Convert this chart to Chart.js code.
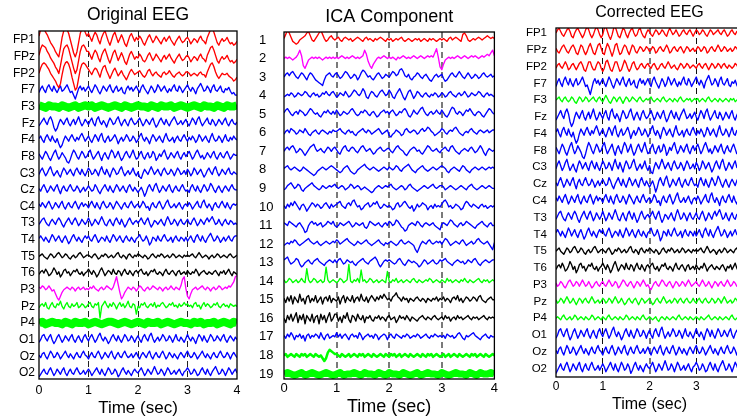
<!DOCTYPE html>
<html><head><meta charset="utf-8">
<script src="https://cdn.jsdelivr.net/npm/chart.js@4/dist/chart.umd.min.js"></script>
<style>
html,body{margin:0;padding:0;background:#fff;width:737px;height:420px;overflow:hidden;position:relative;}
.p{position:absolute;top:0;height:420px;overflow:hidden;}
canvas{display:block;}
</style></head><body>
<div class="p" style="left:0;width:245px"><canvas id="c1" width="245" height="420"></canvas></div>
<div class="p" style="left:245px;width:255px"><canvas id="c2" width="255" height="420"></canvas></div>
<div class="p" style="left:500px;width:237px"><canvas id="c3" width="250" height="420"></canvas></div>
<script>
// ---------- labels ----------
const channelNames = ['FP1','FPz','FP2','F7','F3','Fz','F4','F8','C3','Cz','C4','T3','T4','T5','T6','P3','Pz','P4','O1','Oz','O2'];
const componentNames = ['1','2','3','4','5','6','7','8','9','10','11','12','13','14','15','16','17','18','19'];
const timeTicks = [0,1,2,3,4];
const DURATION = 4;   // every series below spans 0..4 s, evenly sampled

// ---------- Original EEG (amplitude units, up = positive) ----------
const ORIG_FP1 = [3,8,10,9,6,4,1,-2,-4,-6,-9,-11,-13,-6,2,7,9,8,5,0,-5,-10,-13,-9,-2,5,9,10,6,3, 5,2,-1,3,6,4,0,-3,2,5,7,3,-1,-4,0,4,6,2,-2,1,4,1,-3,-5,-1,3,5,2,-1,2, 0,3,1,-2,-4,-1,2,4,1,-2,0,3,1,-1,-3,0,2,-1,1,3,0,-2,-4,-1,1,3,0,-2,-1,1, 2,0,-3,-1,1,0,-2,1,3,0,-1,-3,2,5,8,9,6,2,-2,-4,-1,1,-1,0,2,-1,-3,-2,-4,-3, -1];
const ORIG_FPZ = [1,6,9,8,7,4,2,-1,-3,-5,-8,-10,-13,-7,0,6,8,9,6,1,-4,-9,-13,-10,-3,4,8,9,7,4, 4,1,-2,2,5,3,-1,-4,1,4,6,2,-2,-5,-1,3,5,1,-3,0,3,0,-4,-6,-2,2,4,1,-2,0, -1,2,0,-3,-4,-2,1,3,0,-3,-1,2,0,-2,-4,-1,1,-2,0,2,-1,-3,-5,-2,0,2,-1,-3,-2,0, 1,-1,-4,-2,0,-1,-3,0,2,-1,-2,-4,1,4,7,8,5,1,-3,-5,-2,0,-2,-1,1,-2,-4,-3,-5,-4, -2];
const ORIG_FP2 = [0,4,7,8,7,5,3,0,-2,-4,-6,-9,-11,-8,-1,5,8,9,7,3,-3,-8,-13,-11,-4,3,7,8,7,5, 3,1,-1,2,4,3,0,-3,2,5,6,2,-1,-4,-1,2,4,1,-2,0,2,-1,-3,-5,-2,1,3,1,-1,0, 1,2,0,-2,-3,-1,2,3,0,-2,0,1,-1,-2,-3,0,1,-1,0,2,0,-2,-3,-1,0,1,-1,-2,-1,1, 1,0,-2,-1,0,-1,-2,0,1,-1,-1,-3,1,4,7,8,5,1,-2,-4,-2,0,-1,-1,0,-2,-3,-4,-6,-5, -3];
const ORIG_F7  = [-2,1,3,0,-2,2,4,1,-1,3,0,-2,1,3,-1,0,2,4,1,-2,-1,-4,-7,-3,1,3,0,2,-1,1, 3,0,-2,1,4,2,-1,-3,0,3,1,-1,2,4,0,-2,1,3,-1,0,2,-2,-3,1,3,0,2,-1,1,3, 0,-2,2,4,1,-1,-3,0,3,1,-2,0,4,2,-1,1,3,0,-2,1,-1,2,4,0,-1,3,1,-2,0,2, 4,1,-1,2,0,-3,1,3,5,2,-1,0,3,1,-2,2,4,0,-1,1,3,-1,-2,1,0,2,-1,-3,-2,-4, -4];
const ORIG_F3  = [1,0,-1,1,0,0,-1,1,0,-1,0,1,-1,0,1, 0,1,-1,0,1,0,-1,0,1,0,-1,1,0,-1,0, 1,0,0,-1,1,0,-1,1,0,0,1,-1,0,1,0, -1,0,1,0,-1,1,0,0,-1,1,0,-1,1,0,0, 1];
const ORIG_FZ  = [-2,0,2,4,1,-1,3,5,2,-3,-6,-4,0,3,1,-1,2,4,0,-2,1,3,-1,2,5,1,-2,0,3,1, -1,2,4,0,-2,3,5,1,-1,2,0,-3,1,4,2,-1,0,3,5,1,-2,1,3,0,-2,2,4,1,-1,0, 2,4,1,-2,0,3,1,-1,2,4,0,-3,-1,2,4,1,-1,3,0,-2,1,3,5,2,-1,0,2,-1,1,3, 0,-2,1,4,2,-1,3,5,1,-2,0,2,4,0,-1,3,1,-2,0,3,1,-1,2,4,0,-2,1,3,0,-1, 1];
const ORIG_F4  = [1,3,0,-2,2,4,1,-1,3,0,-2,1,-3,-6,-4,0,3,1,-1,2,4,1,-1,2,0,3,5,2,-1,1, 3,0,-2,1,4,2,-1,3,5,0,-2,1,3,-1,0,2,4,1,-3,0,2,-1,1,4,2,-1,0,3,1,-2, 0,3,5,1,-1,2,0,-3,1,4,2,-1,1,3,0,-2,2,5,1,-1,0,2,-2,1,3,0,-1,2,4,1, -1,2,0,3,1,-2,0,4,2,-1,1,3,0,-2,2,5,1,-1,0,3,1,-2,1,4,0,-1,2,0,3,1, 0];
const ORIG_F8  = [2,0,-2,1,4,2,-1,-3,0,3,5,1,-2,0,3,1,-1,-4,-5,-2,2,5,3,0,-2,1,4,2,-1,0, 3,5,1,-2,0,2,4,0,-3,1,3,0,-2,2,5,3,-1,1,4,0,-3,-1,2,4,1,-1,2,5,1,-2, -1,2,4,0,-2,1,3,-1,0,4,2,-3,-1,2,0,3,5,1,-2,0,3,1,-1,2,4,0,-2,1,3,0, 2,4,1,-2,0,3,5,2,-1,1,-2,0,3,1,-1,2,4,0,-2,1,3,0,-1,2,4,1,-2,0,2,1, 1];
const ORIG_C3  = [-1,2,4,1,-2,0,3,5,1,-2,0,2,-1,-3,1,4,2,-1,1,3,0,-2,2,4,1,-1,3,0,-2,1, 4,2,-1,0,3,1,-2,2,5,1,-1,3,0,-3,1,4,2,-1,0,3,5,1,-2,0,2,-1,1,4,0,-2, 1,-3,-4,0,3,1,-1,2,5,2,-1,1,3,0,-2,2,4,1,-1,0,3,1,-2,1,4,2,-1,0,2,-1, 3,1,-2,0,4,2,-1,1,3,0,-3,-1,2,4,1,-1,3,5,1,-2,0,3,1,-1,2,4,0,-1,1,0, -1];
const ORIG_CZ  = [1,-1,2,4,1,-2,0,3,1,-1,2,4,0,-3,1,3,0,-1,2,4,1,-1,0,3,1,-2,0,2,-1,1, 3,1,-1,0,4,2,-1,-3,0,2,4,1,-1,3,0,-2,1,4,2,-1,1,3,0,-2,2,4,1,-1,2,0, -2,0,2,-1,-5,-2,2,4,1,-1,3,5,1,-2,0,3,1,-1,2,4,0,-2,1,3,0,-1,2,4,1,-1, 0,-2,2,4,1,-1,3,0,-2,1,4,2,-1,1,5,3,0,-2,1,3,0,-2,1,3,1,-1,2,4,1,0, 0];
const ORIG_C4  = [2,0,3,1,-1,2,4,1,-2,0,3,1,-1,2,4,0,-2,1,3,0,-1,2,4,1,-2,1,3,0,2,1, -1,2,4,1,-1,3,0,-2,2,4,1,-1,0,3,1,-2,1,4,2,0,-2,1,3,0,-1,2,4,1,-1,1, 2,-1,1,4,2,-1,0,-3,1,3,0,-1,2,4,1,-2,0,3,5,1,-1,0,2,-1,1,3,0,-2,1,2, 0,3,1,-2,0,2,4,0,-1,3,5,1,-1,2,0,-3,1,3,0,-1,2,4,1,-1,3,0,-2,1,2,1, 2];
const ORIG_T3  = [-1,1,3,4,1,-1,-2,1,3,1,-1,2,4,2,-1,-3,0,2,4,1,-1,2,4,1,-2,0,3,1,-1,1, 4,1,-2,0,3,1,-1,2,5,2,-1,-2,1,3,0,-2,2,4,1,-1,3,0,-3,-1,2,4,1,-1,1,2, 0,2,4,1,-1,2,4,0,-3,-1,2,1,-1,1,3,0,-2,2,5,2,-1,0,3,1,-2,1,3,0,-1,1, 3,0,-1,2,4,1,-2,0,3,1,-1,2,4,1,3,5,2,-1,0,3,0,-2,1,3,0,-1,2,1,-1,0, -1];
const ORIG_T4  = [1,3,1,-1,2,0,-2,1,4,2,-1,1,3,0,-2,1,3,0,-3,-1,2,4,1,-1,2,0,-2,1,3,1, 3,0,-1,2,4,1,-2,0,2,1,-1,3,0,-2,1,4,2,-1,1,3,0,-2,1,3,0,-1,2,0,-2,1, 2,4,1,-1,0,3,0,-4,-2,2,1,-1,3,0,-1,2,4,1,-1,0,2,-2,1,3,0,-1,2,1,-1,2, -1,1,3,0,-2,2,4,1,-1,3,0,-2,1,3,5,2,-1,0,3,1,-2,0,2,-1,1,3,0,-1,2,3, 3];
const ORIG_T5  = [0,1,2,0,-1,-2,0,2,1,-1,0,2,3,1,-1,0,2,1,-1,-2,0,1,-1,0,2,3,1,-1,0,1, 1,0,-1,1,2,0,-2,-1,1,0,2,1,-1,0,1,-1,0,2,3,0,-1,1,0,-2,1,2,0,-1,1,0, 2,1,0,-1,1,0,-2,-1,1,2,0,-1,1,0,2,1,-1,0,1,-1,0,2,1,-1,0,1,0,-1,1,0, 1,0,1,2,0,-1,1,3,1,-1,0,1,0,-2,0,1,-1,0,2,1,-1,0,1,0,-1,1,2,0,-1,0, 1];
const ORIG_T6  = [-1,1,2,0,3,1,-2,-1,1,4,2,-1,1,-3,-1,2,3,0,1,-2,0,2,1,3,0,-1,1,-2,0,1, 3,1,-1,2,0,-3,-1,2,4,1,-2,0,2,1,-1,3,0,-1,2,1,-2,1,3,0,-1,2,0,-2,1,2, 0,2,3,0,-1,1,-2,0,2,1,3,0,-1,1,0,-2,1,3,0,-1,1,2,0,-2,1,2,-1,0,1,-1, 2,0,-1,1,0,3,1,-2,0,1,2,0,-1,1,0,-1,1,2,0,-2,1,0,2,-1,1,3,0,-2,1,0, -1];
const ORIG_P3  = [2,1,3,2,0,1,3,1,-1,0,-3,-6,-8,-5,-2,0,1,2,1,0,2,1,-1,1,2,0,1,2,0,1, 0,2,1,3,1,0,-1,1,2,0,1,3,2,1,0,2,6,10,4,-2,-7,-5,-2,0,2,1,0,2,1,-1, 1,3,2,0,-1,1,2,0,1,3,2,1,0,2,1,-1,1,2,0,1,3,1,0,2,1,0,3,8,10,1, -5,-7,-3,0,1,2,0,1,2,3,1,0,2,1,-1,1,2,0,1,3,2,0,1,2,1,3,2,4,6,10, 11];
const ORIG_PZ  = [-1,1,2,0,3,-1,-2,1,3,0,-1,2,1,4,0,-2,1,3,0,-1,2,0,1,3,-1,0,2,1,-1,0, 2,3,0,-1,2,1,3,-9,0,2,4,1,-1,2,0,3,1,-2,1,3,0,2,-1,1,4,0,-1,2,1,-6, 0,-1,2,1,3,0,-1,1,2,0,3,-1,1,0,2,3,1,-1,0,2,1,3,0,1,-1,2,0,1,3,1, 2,0,1,-1,2,3,0,1,-2,1,3,0,2,1,-1,0,2,1,3,0,-1,1,2,0,1,-1,2,1,0,1, 0];
const ORIG_P4  = [0,1,-1,0,1,0,0,-1,1,0,-1,1,0,0,1, -1,0,1,0,-1,0,1,1,0,-1,0,1,0,-1,0, 1,0,-1,1,0,0,1,-1,0,1,0,-1,0,1,0, 0,-1,1,0,1,-1,0,0,1,-1,0,1,0,-1,1, 0];
const ORIG_O1  = [-2,0,3,4,1,-1,2,4,0,-3,-1,2,4,1,-2,0,3,1,-1,2,4,0,-2,1,3,0,-2,2,4,1, -1,2,4,1,-2,0,3,5,1,-1,2,0,-3,-1,2,4,1,-1,3,0,-2,1,4,2,-1,0,3,1,-2,1, 3,0,-2,2,4,1,-1,3,5,1,-2,0,2,-1,1,4,2,-1,0,3,1,-2,1,4,0,-1,2,0,-2,1, 4,1,-1,2,0,-3,1,4,2,-1,3,0,-2,1,4,2,-1,0,3,1,-1,2,4,0,-2,1,3,1,-1,2, 0];
const ORIG_OZ  = [1,-1,2,3,0,-2,1,4,2,-1,0,3,1,-2,0,2,4,1,-1,2,0,-2,1,3,0,-1,2,4,1,0, -2,1,3,0,-1,2,4,1,-2,0,3,1,-1,2,4,0,-2,1,3,0,-1,2,4,1,-1,0,2,-1,1,3, 0,-2,1,3,1,-1,2,4,0,-2,1,3,0,-1,2,4,1,-2,0,3,1,-1,2,0,-2,1,3,1,-1,2, 4,1,-1,0,3,1,-2,0,2,4,1,-1,2,0,-2,1,3,0,-1,2,4,1,-1,0,3,1,-2,1,3,1, -1];
const ORIG_O2  = [-3,-1,1,3,0,-1,2,4,1,-2,0,3,1,-1,2,4,0,-2,1,3,0,-1,2,4,1,-1,0,2,-1,1, 3,1,-2,0,2,4,1,-1,3,0,-2,1,4,2,-1,0,3,1,-3,-1,2,4,1,-1,2,0,-2,1,3,1, 0,2,4,1,-2,0,3,1,-1,2,5,2,-1,0,3,1,-2,1,4,2,-1,0,2,-1,1,3,0,-2,1,2, 4,2,-1,0,3,1,-2,-1,2,4,1,-1,3,0,-2,1,3,5,2,-1,0,3,1,-2,1,4,2,-1,1,3, 0];

// ---------- ICA components ----------
const ICA_1  = [1,4,7,5,2,-1,-2,-3,-2,0,1,2,3,5,6,3,0,-1,1,3,5,7,4,1,-1,0,2,3,1,0, 1,2,0,-1,1,2,1,0,1,-1,0,1,2,1,0,-1,1,2,0,1,0,-1,1,0,1,2,1,0,-1,1, 0,1,-1,0,1,0,1,2,0,-1,0,1,0,-1,0,1,0,1,-1,0,1,0,-1,1,0,1,0,-1,0,1, 0,1,0,-1,1,2,0,1,2,1,0,-1,4,5,3,0,-1,0,1,0,1,2,1,0,1,2,3,2,1,2, 1];
const ICA_2  = [0,1,0,1,0,-1,0,1,3,6,2,-5,-7,-4,-1,0,1,0,1,0,1,0,-1,0,1,0,1,0,1,0, 1,0,1,2,1,0,1,0,1,2,1,0,1,0,1,2,6,3,-2,-5,-7,-4,-2,0,1,0,1,2,1,0, 1,0,1,0,-1,1,0,1,2,1,0,1,0,1,2,1,0,1,2,1,0,1,2,1,2,1,4,7,1,-6, -8,-4,-1,0,1,0,1,0,1,2,1,0,1,2,1,0,1,2,1,2,1,0,1,2,1,2,3,2,4,6, 2];
const ICA_3  = [0,2,3,1,3,4,2,0,-1,1,3,2,0,-2,1,3,2,0,-2,-3,-4,-5,-6,-2,1,2,3,1,0,2, 3,1,-1,0,2,4,3,1,-1,0,2,1,-2,0,3,5,4,2,0,1,-1,-2,0,2,3,1,-1,0,2,1, 0,2,4,3,1,2,5,6,4,1,0,2,-1,-2,0,1,3,2,0,-1,1,2,0,-2,-3,-1,1,2,0,1, 2,-1,-3,-2,0,2,3,1,0,2,4,2,0,-1,1,3,1,-1,0,2,1,-1,0,2,3,1,0,1,2,0, 1];
const ICA_4  = [-1,0,1,0,2,1,-1,0,2,1,0,1,3,2,0,-1,1,2,0,1,-1,0,2,1,3,1,0,2,3,1, -1,0,2,1,0,3,1,-1,0,2,4,3,1,0,2,5,3,-1,-2,1,3,2,0,-1,1,3,4,2,0,1, 4,2,-1,-2,1,3,5,2,-1,-3,0,3,4,1,-2,0,3,2,0,-1,1,2,0,-1,1,0,2,1,-1,0, 2,1,-1,0,2,3,1,0,-1,1,2,0,1,3,1,-1,0,2,1,0,1,3,2,0,-1,1,2,0,1,0, -1];
const ICA_5  = [1,3,4,2,0,-1,1,2,0,3,2,1,-1,0,2,4,3,1,0,1,-1,-2,0,2,1,3,1,0,2,0, 3,1,-1,0,2,1,0,1,3,4,2,0,-1,0,2,1,3,2,0,-1,1,2,0,-2,-1,1,2,3,1,2, 0,2,3,1,-1,0,2,1,3,4,2,-1,-2,0,3,1,0,2,4,5,2,0,-1,1,2,0,1,3,1,0, 3,1,-1,-2,0,3,5,4,1,0,2,1,-1,1,3,2,4,2,0,-1,1,2,1,-1,-2,0,2,4,3,1, 0];
const ICA_6  = [-1,1,2,0,3,2,1,-1,0,2,1,0,3,1,-1,-2,0,1,2,0,-1,1,2,1,0,-1,1,0,2,1, 1,2,3,1,0,-1,1,2,0,1,-1,-2,0,1,2,3,1,0,2,1,-1,0,1,2,3,1,-1,0,1,2, -2,-3,-1,0,2,1,0,-2,-1,2,3,1,0,1,2,1,-1,0,2,3,1,2,4,3,1,0,-2,-1,0,1, 3,2,0,-1,1,2,1,3,4,2,0,-1,-2,0,1,0,2,3,1,0,-1,1,2,1,0,1,2,0,1,2, 2];
const ICA_7  = [0,2,3,1,3,4,2,-1,0,2,1,-1,-3,-1,1,3,4,5,2,0,1,2,0,-1,1,3,2,0,2,3, 1,-1,-2,1,3,4,1,0,2,3,2,0,-1,1,3,4,2,0,1,2,0,-2,-1,1,2,3,1,0,1,2, 2,0,-1,1,3,4,2,1,0,-2,-3,-1,1,2,3,2,0,1,-1,-2,0,2,4,3,1,0,1,2,0,-1, 1,2,3,1,0,3,4,2,0,-1,-2,0,1,2,1,0,2,3,1,-1,0,2,4,2,-1,-3,0,2,1,0, 1];
const ICA_8  = [1,2,3,1,0,1,2,1,0,-1,0,2,1,0,-1,-2,-3,-4,-3,-1,0,1,2,1,0,1,2,3,2,1, 0,-1,-2,-1,1,2,3,1,-1,-2,-3,-2,0,1,2,3,4,2,1,0,1,2,1,0,-1,0,1,2,1,0, 2,1,0,1,3,2,0,-1,1,2,3,4,2,0,-1,-2,0,1,2,3,1,0,-1,0,1,2,1,0,1,2, 3,2,1,-1,-2,0,1,2,1,0,-1,1,3,2,0,-1,-2,0,1,2,1,0,1,2,1,0,1,2,1,2, 1];
const ICA_9  = [-1,0,2,3,4,2,0,1,3,2,-1,-2,0,1,2,3,4,2,1,0,-1,0,2,1,0,1,2,1,2,3, 1,0,1,2,1,-1,0,1,3,2,0,1,2,1,-1,0,1,0,-1,-2,-3,-2,0,1,2,1,0,1,2,1, 2,3,1,0,-1,0,1,2,1,-1,0,2,3,1,0,-1,-2,-1,0,1,2,1,0,1,2,3,1,0,1,2, 2,1,-1,0,1,2,1,0,-1,0,1,2,1,0,-1,1,2,3,1,0,-1,0,1,2,1,0,1,2,1,0, 0];
const ICA_10 = [1,-1,2,0,3,1,4,2,0,-2,1,2,0,-3,-1,1,3,2,0,2,1,-1,0,2,3,1,-1,2,0,1, 2,3,4,1,0,-1,2,3,1,4,5,2,0,1,-2,-1,1,2,3,0,1,3,2,4,1,-1,0,2,1,0, 1,0,-2,-1,2,3,0,1,3,4,2,0,-1,1,-3,-1,2,0,1,3,2,1,-2,0,1,-1,2,0,1,0, 2,4,5,3,0,1,-1,0,2,1,0,-2,-1,2,4,3,1,0,2,1,0,-1,1,2,0,1,-1,0,1,0, 1];
const ICA_11 = [2,1,0,3,2,1,0,-1,1,2,0,-2,-5,-4,0,2,3,1,2,0,1,2,-1,0,1,3,2,1,3,0, -1,0,2,1,0,1,2,3,1,-1,0,2,1,0,1,2,-1,-2,0,3,2,1,0,1,2,0,-1,1,2,0, 3,2,0,1,4,3,1,-1,-2,-4,-3,0,1,2,1,0,3,2,0,-1,1,2,1,0,1,2,0,-1,-2,-3, 1,2,1,0,2,4,3,1,0,-1,1,2,0,1,3,2,1,0,-1,-2,0,1,2,3,1,0,-1,1,2,0, 0];
const ICA_12 = [-1,0,1,0,2,1,3,2,0,-1,0,1,2,3,4,2,1,0,1,2,0,-1,0,1,2,1,0,1,2,1, 3,2,0,1,2,3,4,2,1,0,-1,0,2,1,0,1,2,3,1,0,-1,0,1,2,3,1,0,-1,1,0, 1,2,1,0,-1,0,2,3,1,0,1,2,1,0,-1,-4,-6,-3,0,2,1,0,2,3,1,0,1,2,1,2, 0,2,4,3,1,-1,0,1,2,1,0,2,3,1,-1,0,1,2,0,1,3,4,2,1,0,1,2,0,-2,-4, 1];
const ICA_13 = [2,3,4,1,-1,0,1,3,2,-1,-3,-2,0,1,2,0,-1,1,2,3,1,0,-1,-2,0,1,2,1,0,2, 0,2,3,1,-1,0,2,1,0,1,-1,-2,0,1,2,3,1,0,-1,1,2,3,4,2,-1,-3,-1,1,2,1, 2,1,0,-1,0,2,3,1,-1,-2,0,2,1,0,1,0,-1,-3,-2,0,2,1,-1,0,1,2,0,-1,0,2, 1,2,3,1,0,-1,-2,0,1,2,1,0,1,-1,0,2,1,0,2,3,1,-1,-2,0,1,2,1,0,1,2, 2];
const ICA_14 = [1,-1,0,2,1,-1,0,1,-1,0,2,0,-1,9,1,-1,0,2,1,-1,0,1,-1,0,10,1,-1,0,1,0, -1,0,2,1,-1,0,1,12,0,-1,1,0,2,-1,8,0,1,-1,0,2,1,-1,0,1,-1,0,1,0,-1,7, 0,-1,1,0,2,-1,0,1,-1,0,1,0,-1,1,2,0,-1,1,0,-1,0,1,0,2,1,-1,0,1,0,-1, 1,0,-1,2,0,1,-1,0,1,0,-1,1,0,2,0,-1,1,0,-1,0,1,2,0,-1,1,0,1,-1,0,1, 0];
const ICA_15 = [1,-2,2,-1,3,-3,2,0,-2,4,-1,1,-3,2,3,-2,1,-1,3,-2,0,2,-3,1,2,-1,3,-2,1,0, -1,2,-3,1,3,-2,2,0,-1,3,-2,1,2,-1,4,0,-1,2,-2,1,3,1,-1,2,0,3,1,4,2,0, 1,-1,2,3,5,2,1,-1,2,0,1,-2,1,0,-1,1,2,0,-1,1,0,-2,1,0,-1,1,0,2,-1,1, 0,2,-1,1,0,-2,1,2,0,3,-1,1,-2,0,2,1,-1,0,2,1,-1,2,3,0,-1,-2,0,1,2,0, 0];
const ICA_16 = [0,-3,2,-1,3,-2,1,4,-3,2,-1,3,-4,2,0,-2,3,-3,1,2,-4,3,-1,2,-3,1,4,-2,0,3, 3,-2,1,-3,2,0,4,-1,-3,2,1,-2,3,0,-1,2,-3,1,0,2,-1,-2,1,0,2,-1,1,0,-2,1, 2,-1,0,1,-3,-1,2,0,1,-1,2,0,-2,1,0,-1,-2,0,1,2,0,-1,1,0,-1,1,2,0,-1,0, 1,-1,2,0,1,-2,0,1,-1,2,0,1,-1,0,1,2,0,-1,1,0,1,-1,0,1,2,0,-1,1,0,1, 0];
const ICA_17 = [1,-1,2,0,3,1,-2,1,0,2,-1,1,-3,1,2,-1,1,0,2,1,-1,3,0,-2,1,2,-1,0,1,0, 3,0,2,-1,1,2,0,-2,1,2,0,1,-1,3,1,-2,0,1,2,0,1,-1,2,1,-2,0,1,2,1,-2, 1,2,0,-1,2,1,0,-1,1,0,2,1,-1,0,1,0,2,1,-1,0,1,2,0,-1,1,0,2,1,0,1, 0,1,-1,2,1,0,1,-1,0,2,3,1,-1,-2,1,0,1,2,3,1,0,-1,-2,0,1,2,0,-1,1,0, 0];
const ICA_18 = [0,1,-1,0,1,0,-1,1,0,-1,1,0,1,-1,0,1,0,-1,1,0,-1,0,-2,-4,-2,2,4,3,2,1, 1,0,-1,1,0,-1,0,1,-1,0,1,0,-1,1,0,1,-1,0,1,0,-1,1,0,-1,0,1,0,-1,1,0, -1,1,0,1,-1,0,1,-1,0,1,0,-1,1,0,-1,0,1,0,-1,1,0,-1,1,0,1,-1,0,1,0,-1, 0,1,-1,0,1,-1,0,1,0,-1,1,0,-1,0,1,0,-1,1,0,1,-1,0,1,0,-1,1,0,-1,0,1, 0];
const ICA_19 = [0,1,0,-1,0,1,-1,0,1,0,-1,0,1,0,-1, 0,1,-1,0,0,1,0,-1,1,0,0,-1,1,0,-1, 1,0,0,-1,1,0,-1,0,1,-1,0,1,0,0,-1, 1,0,-1,0,1,0,0,-1,1,0,-1,1,0,0,1, 0];

// ---------- Corrected EEG (channels not listed are unchanged by the correction) ----------
const CORR_FP1 = [0,2,3,1,-1,-2,0,2,3,1,-2,-3,0,2,3,1,-1,-3,-1,2,4,2,-1,-3,-1,2,4,2,-1,-3, -1,3,4,1,-2,-4,-1,3,4,1,-2,-3,0,3,2,-1,-3,0,2,3,0,-2,-1,2,3,0,-2,-3,0,2, 1,-1,-2,0,2,1,-1,0,2,1,-1,-2,1,3,1,-1,0,2,0,-2,-1,1,2,0,-1,1,2,0,-2,0, 2,1,-1,0,2,1,-1,-2,0,2,1,-1,0,1,2,0,-1,1,2,0,-2,-1,1,2,0,-1,1,0,-1,0, 0];
const CORR_FPZ = [1,-1,-2,0,2,3,1,-1,-2,0,2,3,1,-2,-3,0,3,2,-1,-3,-1,2,4,1,-2,-3,0,3,4,1, -2,-3,1,4,2,-1,-4,-1,3,4,0,-3,-2,1,3,2,-1,-3,0,3,2,-1,-2,0,2,1,-1,0,2,1, -1,0,2,1,-2,-1,1,2,0,-1,1,3,1,-2,-1,1,2,0,-1,1,2,0,-2,0,2,1,-1,0,1,-1, 0,2,1,-1,0,2,1,-2,-1,1,2,0,-1,1,3,1,-1,0,2,1,-1,0,1,-1,0,2,1,-1,0,1, 1];
const CORR_FP2 = [-1,1,2,0,-1,1,3,1,-2,-1,1,2,0,-2,0,2,3,1,-2,-3,0,3,3,0,-2,-2,1,3,2,-1, -3,-1,3,4,1,-2,-3,0,3,3,0,-3,-2,1,4,2,-1,-3,-1,2,3,0,-2,-1,1,2,0,-1,1,2, 0,-1,1,2,0,-2,-1,1,2,0,-1,1,3,1,-1,0,1,-1,-2,0,2,1,-1,0,2,1,-1,0,1,0, -1,1,2,0,-1,1,2,0,-2,0,2,1,-1,0,2,1,-1,1,2,0,-1,1,0,-1,0,2,1,-1,0,1, -1];
const CORR_F3  = [0,1,2,0,-1,1,2,0,-1,0,2,1,-1,-2,0,2,1,-1,0,2,1,-1,0,1,2,0,-1,1,2,0, -1,1,3,1,-1,-2,0,2,1,-1,1,2,0,-2,0,2,1,-1,0,2,1,0,-1,1,2,0,-1,0,1,0, 1,2,0,-1,0,1,0,-1,1,2,0,-1,0,1,0,-1,1,0,-1,1,2,0,-1,0,1,0,1,-1,0,1, 0,1,-1,0,1,0,-1,1,2,0,-1,0,1,0,-1,1,0,-1,0,1,0,-1,1,0,1,-1,0,1,0,-1, 0];
const CORR_P3  = [1,-1,0,2,1,-1,-2,0,2,3,1,-1,0,2,1,-1,1,3,1,-1,0,2,0,-2,-1,1,2,0,-1,1, 2,0,-1,1,3,1,-1,0,2,1,-2,-1,1,3,2,0,-1,1,2,0,-2,0,2,1,-1,1,3,1,-1,0, -2,-3,-1,1,2,0,-1,1,3,2,0,-1,1,2,0,-2,0,2,1,-1,0,2,1,-1,1,3,1,-1,0,1, 2,0,-1,1,3,1,-1,0,2,0,-2,0,2,1,-1,1,2,0,-1,1,3,1,-1,0,2,1,-1,0,1,2, 0];
const CORR_PZ  = [1,-1,0,2,1,-1,1,3,1,-1,0,2,0,-2,0,2,1,-1,1,2,0,-1,1,3,1,-1,0,1,-1,0, 2,1,-1,0,2,1,-1,1,3,1,-1,0,2,0,-2,-1,1,2,0,-1,1,2,0,-2,0,2,1,-1,0,1, 2,0,-2,-1,1,2,0,-1,1,3,1,-1,0,1,-1,0,2,1,-1,1,2,0,-1,1,2,0,-1,0,2,0, -1,1,2,0,-1,1,2,0,-1,0,2,1,-1,0,2,1,-1,1,3,1,-1,0,1,-1,0,2,1,-1,0,1, 0];
const CORR_P4  = [0,1,0,-1,1,2,0,-1,0,1,-1,0,2,1,-1,0,1,0,-1,1,0,-1,0,2,1,-1,0,1,0,-1, 1,0,-1,1,2,0,-1,0,1,0,-1,1,0,-1,0,2,1,-1,0,1,0,-1,1,0,-1,1,2,0,-1,0, 1,0,-1,0,1,-1,-2,0,1,0,-1,1,0,-1,0,1,0,-1,1,2,0,-1,0,1,0,-1,1,0,-1,0, 1,0,-1,1,0,-1,0,1,2,0,-1,0,1,0,-1,1,0,-1,0,1,0,-1,1,2,0,-1,0,1,0,-1, 1];

// ---------- styling ----------
const FONT = "'Liberation Sans', Arial, Helvetica, sans-serif";
const RED='#ff0000', BLUE='#0000ff', GREEN='#00ff00', MAG='#ff00ff', BLK='#000000';
const eegColors = [RED,RED,RED,BLUE,GREEN,BLUE,BLUE,BLUE,BLUE,BLUE,BLUE,BLUE,BLUE,BLK,BLK,MAG,GREEN,GREEN,BLUE,BLUE,BLUE];
const icaColors = [RED,MAG,BLUE,BLUE,BLUE,BLUE,BLUE,BLUE,BLUE,BLUE,BLUE,BLUE,BLUE,GREEN,BLK,BLK,BLUE,GREEN,GREEN];

const frame = {
  id: 'frame',
  afterDatasetsDraw(chart, args, opts) {
    const {ctx, chartArea: a} = chart;
    ctx.save();
    ctx.setLineDash([]);
    ctx.strokeStyle = '#000';
    ctx.lineWidth = opts.width || 1.3;
    ctx.strokeRect(a.left, a.top, a.right - a.left, a.bottom - a.top);
    ctx.restore();
  }
};

function panel(id, c) {
  const datasets = c.traces.map((vals, i) => ({
    data: vals.map((v, k) => ({x: k * DURATION / (vals.length - 1), y: i - v * c.gain})),
    borderColor: c.colors[i],
    borderWidth: c.widths[i] || 1.35,
    pointRadius: 0, tension: 0, fill: false, borderCapStyle: 'butt', borderJoinStyle: 'round'
  }));
  return new Chart(document.getElementById(id), {
    type: 'line',
    data: {datasets},
    options: {
      responsive: false, animation: false, devicePixelRatio: 1, parsing: false,
      layout: {padding: {left: c.padLeft, right: c.padRight, top: 0, bottom: 0}},
      plugins: {
        legend: {display: false}, tooltip: {enabled: false},
        title: {display: true, text: c.title, color: '#000', fullSize: false,
          font: {family: FONT, size: c.titleSize, weight: 'normal', lineHeight: 1.2},
          padding: {top: c.titleTop, bottom: c.titleBottom}},
        frame: {width: 1.3}
      },
      scales: {
        x: {
          type: 'linear', min: 0, max: 4,
          afterBuildTicks: s => { s.ticks = timeTicks.map(v => ({value: v})); },
          afterFit: s => { s.height = c.xHeight; },
          grid: {drawTicks: false,
            color: ctx => (ctx.tick && ctx.tick.value > 0 && ctx.tick.value < 4) ? c.gridColor(ctx.tick.value) : 'rgba(0,0,0,0)',
            lineWidth: ctx => (ctx.tick ? c.gridWidth(ctx.tick.value) : 1)},
          border: {display: false, dash: [6, 4]},
          ticks: {padding: c.xTickPad, color: '#000', autoSkip: false, maxRotation: 0,
            font: {family: FONT, size: c.xTickSize}},
          title: {display: true, text: 'Time (sec)', color: '#000',
            font: {family: FONT, size: c.xTitleSize, lineHeight: 1.2},
            padding: {top: 0, bottom: c.xTitleBottom}}
        },
        y: {
          type: 'linear', reverse: true, min: c.yMin, max: c.yMax,
          afterBuildTicks: s => { s.ticks = c.labels.map((_, i) => ({value: i})); },
          afterFit: s => { s.width = c.yWidth; },
          grid: {display: false, drawTicks: false}, border: {display: false},
          ticks: {autoSkip: false, padding: c.yTickPad, crossAlign: c.crossAlign, color: '#000',
            font: {family: FONT, size: c.yTickSize},
            callback: v => c.labels[Math.round(v)]}
        }
      }
    },
    plugins: [frame]
  });
}

panel('c1', {
  title: 'Original EEG', titleSize: 17.5, titleTop: 5, titleBottom: 5,
  labels: channelNames, colors: eegColors,
  traces: [ORIG_FP1,ORIG_FPZ,ORIG_FP2,ORIG_F7,ORIG_F3,ORIG_FZ,ORIG_F4,ORIG_F8,ORIG_C3,ORIG_CZ,ORIG_C4,ORIG_T3,ORIG_T4,ORIG_T5,ORIG_T6,ORIG_P3,ORIG_PZ,ORIG_P4,ORIG_O1,ORIG_OZ,ORIG_O2],
  widths: {4: 8, 17: 8},
  gain: 0.078, yMin: -0.54, yMax: 20.36,
  padLeft: 0, padRight: 8, yWidth: 39, yTickPad: 4, crossAlign: 'near', yTickSize: 12,
  xHeight: 41, xTickPad: 4, xTickSize: 12.5, xTitleSize: 17, xTitleBottom: 1.8,
  gridColor: v => '#222', gridWidth: v => 1
});

panel('c2', {
  title: 'ICA Component', titleSize: 18, titleTop: 6, titleBottom: 4.4,
  labels: componentNames, colors: icaColors,
  traces: [ICA_1,ICA_2,ICA_3,ICA_4,ICA_5,ICA_6,ICA_7,ICA_8,ICA_9,ICA_10,ICA_11,ICA_12,ICA_13,ICA_14,ICA_15,ICA_16,ICA_17,ICA_18,ICA_19],
  widths: {17: 2.5, 18: 7},
  gain: 0.0754, yMin: -0.43, yMax: 18.27,
  padLeft: 14, padRight: 4, yWidth: 25, yTickPad: 8, crossAlign: 'far', yTickSize: 13,
  xHeight: 41, xTickPad: 2, xTickSize: 13, xTitleSize: 18, xTitleBottom: 2.2,
  gridColor: v => '#7a7a7a', gridWidth: v => 2
});

panel('c3', {
  title: 'Corrected EEG', titleSize: 16, titleTop: 3.4, titleBottom: 5.4,
  labels: channelNames, colors: eegColors,
  traces: [CORR_FP1,CORR_FPZ,CORR_FP2,ORIG_F7,CORR_F3,ORIG_FZ,ORIG_F4,ORIG_F8,ORIG_C3,ORIG_CZ,ORIG_C4,ORIG_T3,ORIG_T4,ORIG_T5,ORIG_T6,CORR_P3,CORR_PZ,CORR_P4,ORIG_O1,ORIG_OZ,ORIG_O2],
  widths: {},
  gain: 0.095, yMin: -0.3, yMax: 20.5,
  padLeft: 0, padRight: 7, yWidth: 56, yTickPad: 9, crossAlign: 'near', yTickSize: 11.5,
  xHeight: 43, xTickPad: 2, xTickSize: 12, xTitleSize: 16, xTitleBottom: 5.4,
  gridColor: v => (v === 2 ? '#7a7a7a' : '#111'), gridWidth: v => (v === 2 ? 2 : 1)
});
</script>
</body></html>
